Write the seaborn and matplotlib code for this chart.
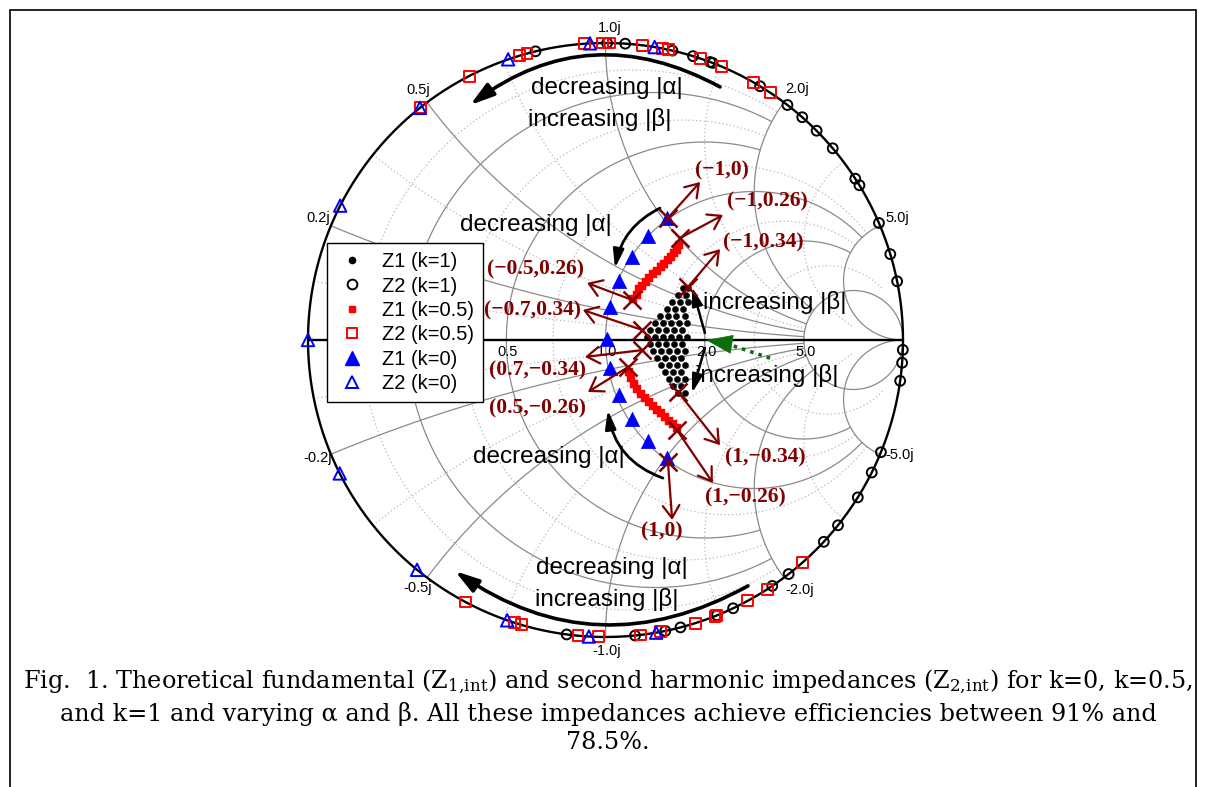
import numpy as np
import pandas as pd
import matplotlib
matplotlib.use("Agg")
import matplotlib.pyplot as plt
import seaborn as sns
from matplotlib.lines import Line2D

# ---------------- data (normalised reflection coefficient plane) ----------------
# Z2: pure reactances on the unit circle, given as reflection-coefficient angle (deg)
z2_k1_angle = [103.6, 89.7, 86.2, 77.0, 72.9, 69.4, 68.9, 58.7, 52.3, 48.6, 44.8, 40.2,
               32.9, 31.4, 23.2, 16.8, 11.4, -1.9, -4.4, -7.9, -22.2, -26.5, -32.0,
               -38.6, -42.8, -52.0, -55.9, -64.6, -68.0, -75.4, -78.4, -84.3, -97.5]
z2_k05_angle = [128.5, 117.3, 106.8, 105.3, 94.0, 90.5, 89.2, 82.8, 78.9, 77.7, 71.3,
                67.0, 60.2, 56.3, -48.6, -57.0, -61.4, -68.0, -68.4, -72.4, -79.4,
                -83.3, -91.3, -95.3, -106.4, -107.8, -118.1]
z2_k0_angle = [180.0, 153.1, 128.6, 109.1, 93.0, 80.5, -80.2, -93.2, -109.3, -129.3, -153.3]

# Z1 (k=0)
z1_k0_re = [0.207, 0.143, 0.089, 0.045, 0.015, 0.005, 0.015, 0.045, 0.089, 0.143, 0.207]
z1_k0_im = [0.411, 0.350, 0.279, 0.199, 0.111, 0.005, -0.094, -0.185, -0.266, -0.340, -0.397]

# Z1 (k=0.5)
z1_k05_re = [0.247, 0.240, 0.230, 0.220, 0.210, 0.197, 0.187, 0.173, 0.160, 0.146, 0.136,
             0.123, 0.113, 0.106, 0.092,
             0.079, 0.086, 0.096, 0.106, 0.119, 0.133, 0.146, 0.160, 0.173, 0.187,
             0.200, 0.213, 0.227, 0.240]
z1_k05_im = [0.320, 0.303, 0.293, 0.279, 0.269, 0.256, 0.246, 0.232, 0.222, 0.209, 0.195,
             0.182, 0.172, 0.152, 0.138,
             -0.108, -0.128, -0.148, -0.165, -0.182, -0.195, -0.209, -0.222, -0.236, -0.246,
             -0.259, -0.273, -0.283, -0.296]

# Z1 (k=1)
z1_k1_re = [0.261, 0.277, 0.244, 0.271, 0.224, 0.250, 0.277, 0.207, 0.234, 0.261,
            0.183, 0.210, 0.237, 0.267, 0.166, 0.193, 0.220, 0.247, 0.274,
            0.150, 0.176, 0.203, 0.230, 0.257, 0.139, 0.166, 0.193, 0.220, 0.247, 0.274,
            0.150, 0.176, 0.203, 0.230, 0.257, 0.160, 0.187, 0.213, 0.240, 0.267,
            0.173, 0.200, 0.227, 0.254, 0.187, 0.213, 0.240, 0.267, 0.200, 0.227, 0.254,
            0.213, 0.240, 0.267, 0.227, 0.254, 0.244, 0.267]
z1_k1_im = [0.175, 0.175, 0.152, 0.152, 0.129, 0.129, 0.129, 0.104, 0.104, 0.104,
            0.081, 0.081, 0.081, 0.081, 0.057, 0.057, 0.057, 0.057, 0.057,
            0.034, 0.034, 0.034, 0.034, 0.034, 0.010, 0.010, 0.010, 0.010, 0.010, 0.010,
            -0.013, -0.013, -0.013, -0.013, -0.013, -0.037, -0.037, -0.037, -0.037, -0.037,
            -0.061, -0.061, -0.061, -0.061, -0.084, -0.084, -0.084, -0.084, -0.108, -0.108, -0.108,
            -0.131, -0.131, -0.131, -0.155, -0.155, -0.178, -0.178]

# (alpha, beta) annotations
ann_labels = ["(\u22121,0)", "(\u22121,0.26)", "(\u22121,0.34)", "(\u22120.5,0.26)",
              "(\u22120.7,0.34)", "(0.7,\u22120.34)", "(0.5,\u22120.26)", "(1,\u22120.34)",
              "(1,\u22120.26)", "(1,0)"]
ann_pt_re = [0.210, 0.250, 0.277, 0.089, 0.123, 0.123, 0.076, 0.244, 0.240, 0.210]
ann_pt_im = [0.411, 0.343, 0.178, 0.135, 0.034, -0.034, -0.091, -0.175, -0.303, -0.411]
ann_tip_re = [0.318, 0.395, 0.385, -0.062, -0.076, -0.069, -0.059, 0.385, 0.361, 0.224]
ann_tip_im = [0.532, 0.421, 0.306, 0.192, 0.101, -0.057, -0.175, -0.354, -0.481, -0.606]
ann_txt_re = [0.392, 0.543, 0.529, -0.234, -0.244, -0.227, -0.227, 0.536, 0.469, 0.190]
ann_txt_im = [0.572, 0.465, 0.327, 0.236, 0.101, -0.101, -0.229, -0.394, -0.529, -0.646]

# grid values of the Smith chart
major_vals = [0.2, 0.5, 1.0, 2.0, 5.0]
major_r_lim = [2.0, 2.0, 5.0, 5.0, 1e5]
major_x_lim = [5.0, 5.0, 5.0, 5.0, 1e5]
minor_vals = [0.1, 0.35, 0.7, 1.5, 3.0]
minor_lim = [2.0, 2.0, 5.0, 5.0, 10.0]
r_tick_labels = ["0.5", "1.0", "2.0", "5.0"]
r_tick_vals = [0.5, 1.0, 2.0, 5.0]
x_tick_vals = [0.2, 0.5, 1.0, 2.0, 5.0, -0.2, -0.5, -1.0, -2.0, -5.0]
x_tick_labels = ["0.2j", "0.5j", "1.0j", "2.0j", "5.0j", "-0.2j", "-0.5j", "-1.0j", "-2.0j", "-5.0j"]
x_tick_offsets = [(-9.4, 5.8), (-6.5, 8.6), (3.2, 10.8), (9.4, 9.4), (12.2, 5.8),
                  (-9.4, -2.9), (-6.5, -7.2), (1.1, -10.0), (11.5, -8.6), (14.4, -0.7)]

caption = ("Fig.  1. Theoretical fundamental (Z$_\\mathregular{1,\\!int}$) and second harmonic impedances "
           "(Z$_\\mathregular{2,\\!int}$) for k=0, k=0.5,\n"
           "and k=1 and varying \u03b1 and \u03b2. All these impedances achieve efficiencies between 91% and\n"
           "78.5%.")

# ---------------- figure ----------------
sns.set_theme(style="white")
plt.rcParams['font.family'] = ['Liberation Sans', 'DejaVu Sans']
plt.rcParams['text.color'] = 'black'
plt.rcParams['legend.labelcolor'] = 'black'
plt.rcParams['mathtext.default'] = 'regular'

W, H = 1206, 787
fig = plt.figure(figsize=(W / 100, H / 100), dpi=100)
ax = fig.add_axes([308 / W, 1 - 637 / H, 595 / W, 594 / H])
ax.set_xlim(-1, 1)
ax.set_ylim(-1, 1)
ax.axis('off')


def gam(z):
    return (z - 1) / (z + 1)


def r_circle(r, lim):
    xs = np.geomspace(1e-4, lim, 1500)
    x = np.concatenate([-xs[::-1], [0.0], xs])
    return gam(r + 1j * x)


def x_arc(x, lim):
    rs = np.concatenate([[0.0], np.geomspace(1e-4, lim, 1500)])
    return gam(rs + 1j * x)


grid_major = dict(color='#8a8a8a', lw=0.9, zorder=1)
grid_minor = dict(color='#b4b4b4', lw=0.8, ls=(0, (1.2, 2.2)), zorder=1)
for v, lim in zip(minor_vals, minor_lim):
    g = r_circle(v, lim)
    ax.plot(g.real, g.imag, **grid_minor)
    for s in (1, -1):
        g = x_arc(s * v, lim)
        ax.plot(g.real, g.imag, **grid_minor)
for v, rl, xl in zip(major_vals, major_r_lim, major_x_lim):
    g = r_circle(v, rl)
    ax.plot(g.real, g.imag, **grid_major)
    for s in (1, -1):
        g = x_arc(s * v, xl)
        ax.plot(g.real, g.imag, **grid_major)

t = np.linspace(0, 2 * np.pi, 800)
ax.plot(np.cos(t), np.sin(t), color='black', lw=1.7, zorder=2, clip_on=False)
ax.plot([-1, 1], [0, 0], color='black', lw=1.7, zorder=2)

# tick labels
for v, lab in zip(r_tick_vals, r_tick_labels):
    g = gam(v)
    ax.annotate(lab, xy=(g.real, 0), xytext=(1.0, -8.6), textcoords='offset points',
                ha='center', va='center', fontsize=10.5, color='black', zorder=3)
for v, lab, off in zip(x_tick_vals, x_tick_labels, x_tick_offsets):
    g = gam(1j * v)
    ax.annotate(lab, xy=(g.real, g.imag), xytext=off, textcoords='offset points',
                ha='center', va='center', fontsize=10.5, color='black', zorder=3,
                annotation_clip=False)

# ---------------- data series via seaborn ----------------
def ang_df(a):
    a = np.deg2rad(np.asarray(a))
    return pd.DataFrame({'re': np.cos(a), 'im': np.sin(a)})


df_z1_k1 = pd.DataFrame({'re': z1_k1_re, 'im': z1_k1_im})
df_z1_k05 = pd.DataFrame({'re': z1_k05_re, 'im': z1_k05_im})
df_z1_k0 = pd.DataFrame({'re': z1_k0_re, 'im': z1_k0_im})

sns.scatterplot(data=df_z1_k0, x='re', y='im', marker='^', s=105, color='blue',
                edgecolor='blue', linewidth=0.5, ax=ax, legend=False, zorder=4)
sns.scatterplot(data=df_z1_k05, x='re', y='im', marker='s', s=26, color='red',
                edgecolor='red', linewidth=0.3, ax=ax, legend=False, zorder=4)
sns.scatterplot(data=df_z1_k1, x='re', y='im', marker='o', s=20, color='black',
                edgecolor='black', linewidth=0.3, ax=ax, legend=False, zorder=4)
sns.scatterplot(data=ang_df(z2_k1_angle), x='re', y='im', marker='o', s=50,
                facecolors='none', edgecolor='black', linewidth=1.4, ax=ax,
                legend=False, zorder=5, clip_on=False)
sns.scatterplot(data=ang_df(z2_k05_angle), x='re', y='im', marker='s', s=62,
                facecolors='none', edgecolor='red', linewidth=1.4, ax=ax,
                legend=False, zorder=5, clip_on=False)
sns.scatterplot(data=ang_df(z2_k0_angle), x='re', y='im', marker='^', s=80,
                facecolors='none', edgecolor='blue', linewidth=1.4, ax=ax,
                legend=False, zorder=6, clip_on=False)
ax.set_xlabel('')
ax.set_ylabel('')
ax.set_xlim(-1, 1)
ax.set_ylim(-1, 1)

# ---------------- (alpha, beta) annotations ----------------
dred = '#800000'
ax.plot(ann_pt_re, ann_pt_im, ls='none', marker='x', ms=13, mew=1.8, color=dred, zorder=7)
for lab, pr, pi, tr, ti, xr, xi in zip(ann_labels, ann_pt_re, ann_pt_im, ann_tip_re,
                                       ann_tip_im, ann_txt_re, ann_txt_im):
    ax.annotate('', xy=(tr, ti), xytext=(pr, pi),
                arrowprops=dict(arrowstyle='->,head_length=0.45,head_width=0.3',
                                color=dred, lw=1.6, mutation_scale=20,
                                shrinkA=0, shrinkB=0), zorder=7)
    ax.text(xr, xi, lab, ha='center', va='center', color=dred, fontsize=15.5,
            fontweight='bold', family=['Liberation Serif', 'DejaVu Serif'], zorder=8)

# ---------------- black explanatory arrows and texts ----------------
def carrow(a, b, rad, hl, hw, ms, lw, color='black', ls='-'):
    ax.annotate('', xy=b, xytext=a,
                arrowprops=dict(arrowstyle=f'-|>,head_length={hl},head_width={hw}',
                                connectionstyle=f'arc3,rad={rad}', color=color, lw=lw,
                                mutation_scale=ms, shrinkA=0, shrinkB=0, ls=ls),
                zorder=6, annotation_clip=False)


carrow((0.385, 0.852), (-0.455, 0.791), 0.32, 0.6, 0.18, 24, 2.6)
carrow((0.479, -0.828), (-0.506, -0.778), -0.31, 0.6, 0.18, 24, 2.6)
carrow((0.183, 0.444), (0.032, 0.242), 0.25, 0.55, 0.16, 20, 2.0)
carrow((0.193, -0.465), (0.008, -0.236), -0.3, 0.55, 0.16, 20, 2.0)
carrow((0.334, 0.024), (0.291, 0.178), 0.0, 0.55, 0.16, 20, 1.8)
carrow((0.334, -0.027), (0.291, -0.178), 0.0, 0.55, 0.16, 20, 1.8)

# green dotted arrow
green = '#0a6e0a'
ax.plot([0.553, 0.412], [-0.061, -0.014], color=green, lw=2.6, ls=(0, (1, 1.4)), zorder=6)
carrow((0.415, -0.013), (0.338, 0.0), 0.0, 0.75, 0.27, 24, 0.5, color=green)

txt_kw = dict(ha='center', va='center', fontsize=17.5, color='black', zorder=8)
ax.text(0.005, 0.848, 'decreasing |\u03b1|', **txt_kw)
ax.text(-0.018, 0.741, 'increasing |\u03b2|', **txt_kw)
ax.text(-0.234, 0.387, 'decreasing |\u03b1|', **txt_kw)
ax.text(0.569, 0.125, 'increasing |\u03b2|', **txt_kw)
ax.text(0.543, -0.118, 'increasing |\u03b2|', **txt_kw)
ax.text(-0.190, -0.394, 'decreasing |\u03b1|', **txt_kw)
ax.text(0.022, -0.768, 'decreasing |\u03b1|', **txt_kw)
ax.text(0.005, -0.875, 'increasing |\u03b2|', **txt_kw)

# ---------------- legend ----------------
handles = [
    Line2D([], [], ls='none', marker='o', ms=4.5, color='black'),
    Line2D([], [], ls='none', marker='o', ms=7, mfc='none', mec='black', mew=1.4),
    Line2D([], [], ls='none', marker='s', ms=5, color='red'),
    Line2D([], [], ls='none', marker='s', ms=7.5, mfc='none', mec='red', mew=1.4),
    Line2D([], [], ls='none', marker='^', ms=10, color='blue'),
    Line2D([], [], ls='none', marker='^', ms=9, mfc='none', mec='blue', mew=1.4),
]
labels = ['Z1 (k=1)', 'Z2 (k=1)', 'Z1 (k=0.5)', 'Z2 (k=0.5)', 'Z1 (k=0)', 'Z2 (k=0)']
leg = fig.legend(handles, labels, loc='upper left', bbox_to_anchor=(327 / W, 1 - 243 / H),
                 fontsize=14.5, frameon=True, fancybox=False, framealpha=1, edgecolor='black',
                 borderpad=0.45, labelspacing=0.27, handlelength=1.6, handletextpad=0.7,
                 borderaxespad=0, labelcolor='black')
leg.get_frame().set_linewidth(1.0)
leg.set_zorder(20)

# ---------------- caption and frame ----------------
fig.text(608 / W, 1 - 711 / H, caption, ha='center', va='center', fontsize=17.2,
         family=['DejaVu Serif'], linespacing=1.31, color='black')

for (x0, y0, x1, y1) in [(10, 10, 1196, 10), (10, 10, 10, 787), (1196, 10, 1196, 787)]:
    fig.add_artist(Line2D([x0 / W, x1 / W], [1 - y0 / H, 1 - y1 / H], color='black', lw=1.2))

fig.savefig('out.png', dpi=100)
